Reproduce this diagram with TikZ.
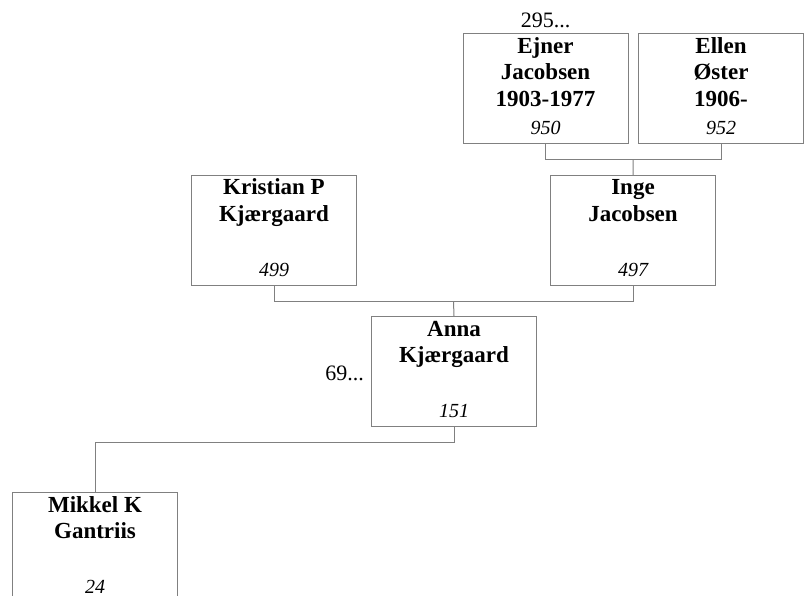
\documentclass[tikz,border=0pt]{standalone}
\usepackage{fontspec}
\setmainfont{Liberation Serif}
\usetikzlibrary{calc}
\definecolor{linegray}{RGB}{128,128,128}
\begin{document}
\begin{tikzpicture}[x=1pt,y=-1pt,
  box/.style={draw=linegray, line width=1pt, minimum width=165pt, minimum height=110pt, inner sep=0pt, anchor=north west},
  nm/.style={anchor=base, inner sep=0pt, font=\fontsize{23}{26.7}\selectfont\bfseries},
  num/.style={anchor=base, inner sep=0pt, font=\fontsize{20}{24}\selectfont\itshape},
  refno/.style={inner sep=0pt, font=\fontsize{22}{26}\selectfont},
  conn/.style={draw=linegray, line width=1pt}]
\useasboundingbox (0,0) rectangle (809,596);
\clip (0,0) rectangle (809,596);
% boxes
\node[box] (ejner) at (462.5,33) {};
\node[box] (ellen) at (638,33) {};
\node[box] (kristian) at (191,175) {};
\node[box] (inge) at (550,175) {};
\node[box] (anna) at (371,316) {};
\node[box] (mikkel) at (12,492) {};
% names
\node[nm] (ejnerN) at ($(ejner.north)+(0,20.3)$) {\begin{tabular}[t]{@{}c@{}}Ejner\\Jacobsen\\1903-1977\end{tabular}};
\node[nm] (ellenN) at ($(ellen.north)+(0,20.3)$) {\begin{tabular}[t]{@{}c@{}}Ellen\\Øster\\1906-\end{tabular}};
\node[nm] (kristianN) at ($(kristian.north)+(0,20)$) {\begin{tabular}[t]{@{}c@{}}Kristian P\\Kjærgaard\end{tabular}};
\node[nm] (ingeN) at ($(inge.north)+(0,20)$) {\begin{tabular}[t]{@{}c@{}}Inge\\Jacobsen\end{tabular}};
\node[nm] (annaN) at ($(anna.north)+(0,20)$) {\begin{tabular}[t]{@{}c@{}}Anna\\Kjærgaard\end{tabular}};
\node[nm] (mikkelN) at ($(mikkel.north)+(0,20)$) {\begin{tabular}[t]{@{}c@{}}Mikkel K\\Gantriis\end{tabular}};
% numbers
\node[num] (ejnerI) at ($(ejner.south)+(0,-9.7)$) {950};
\node[num] (ellenI) at ($(ellen.south)+(0,-9.7)$) {952};
\node[num] (kristianI) at ($(kristian.south)+(0,-9.7)$) {499};
\node[num] (ingeI) at ($(inge.south)+(0,-9.7)$) {497};
\node[num] (annaI) at ($(anna.south)+(0,-9.3)$) {151};
\node[num] (mikkelI) at ($(mikkel.south)+(0,-10)$) {24};
% references
\node[refno, anchor=base] (r295) at ($(ejner.north)+(0,-5)$) {295...};
\node[refno, anchor=base east] (r69) at (364,380) {69...};
% connectors
\coordinate (j1) at ($(ejner.south)!0.5!(ellen.south)+(0,15.3)$);
\draw[conn] (ejner.south) -- (ejner.south |- j1) -- (ellen.south |- j1) -- (ellen.south);
\draw[conn] (j1) -- (inge.north);
\coordinate (j2) at ($(kristian.south)!0.5!(inge.south)+(0,15.3)$);
\draw[conn] (kristian.south) -- (kristian.south |- j2) -- (inge.south |- j2) -- (inge.south);
\draw[conn] (j2) -- (anna.north);
\draw[conn] (anna.south) -- ++(0,15.5) -| (mikkel.north);
\end{tikzpicture}
\end{document}
